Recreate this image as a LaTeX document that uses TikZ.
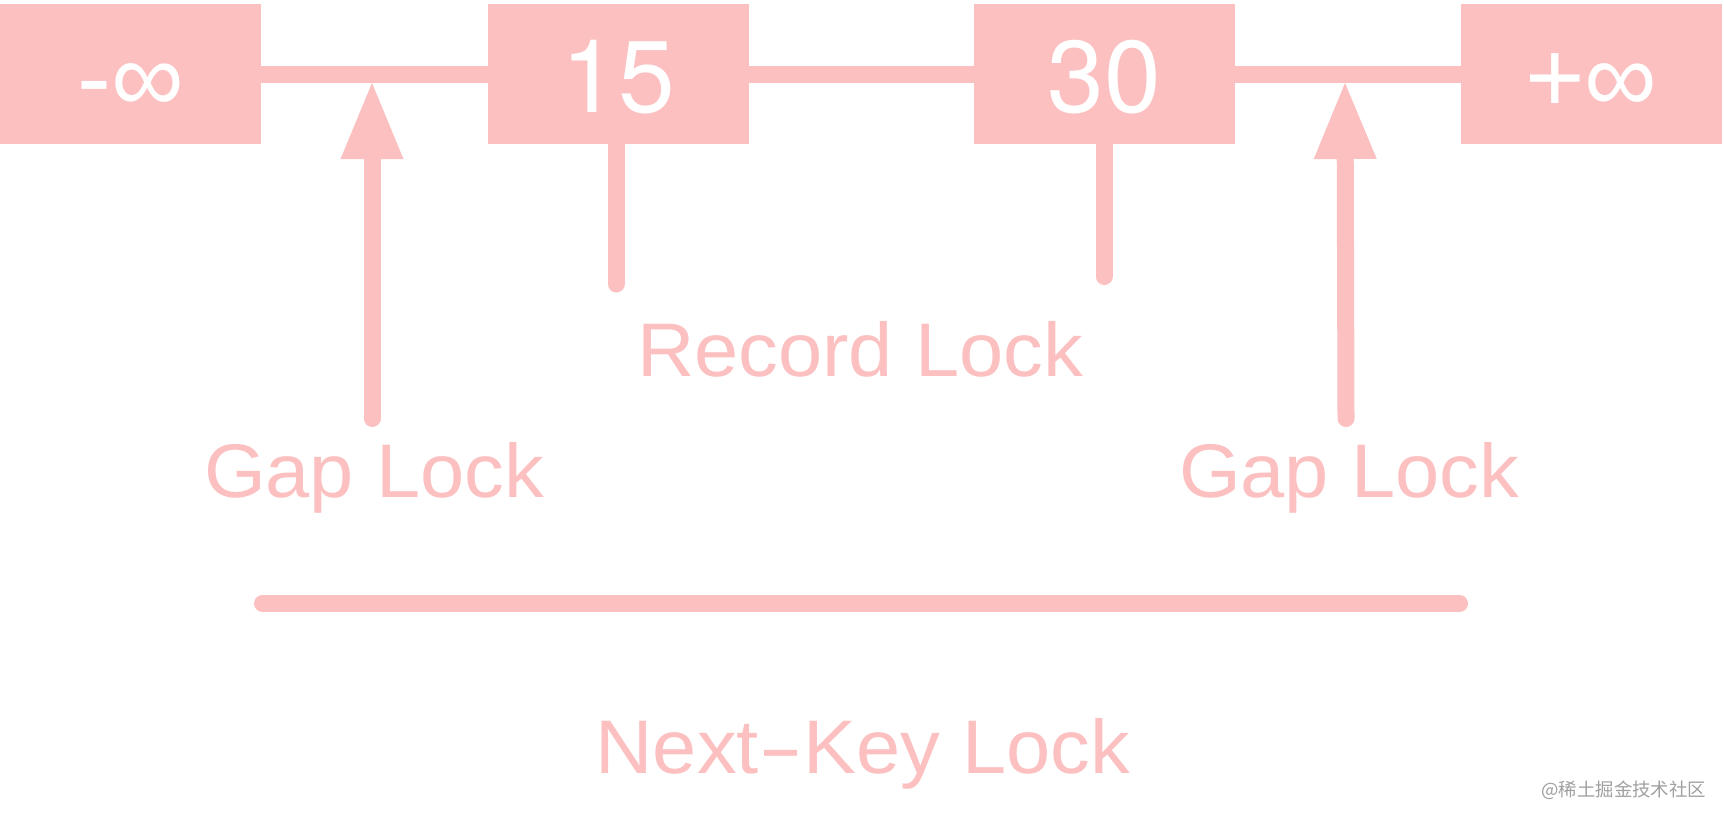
\documentclass[tikz,border=0pt]{standalone}
\usepackage{fontspec}
\usepackage{graphicx}
\setmainfont{Liberation Sans}
\newfontfamily\lblfont[FakeStretch=1.045]{Liberation Sans}
\newfontfamily\digfont{TeX Gyre Heros}
\newfontfamily\cjk{Noto Sans CJK SC}
\usetikzlibrary{arrows.meta}
\definecolor{pk}{RGB}{252,192,193}
\definecolor{wm}{RGB}{160,160,160}
\tikzset{
  keybox/.style={fill=pk, draw=none, minimum width=130.5pt, minimum height=70pt,
    inner sep=0pt, text=white, text height=38pt, text depth=0pt,
    font=\digfont\fontsize{51}{51}\selectfont},
  infbox/.style={keybox, font=\fontsize{51}{51}\selectfont},
  link/.style={draw=pk, line width=8.5pt},
  lockline/.style={draw=pk, line width=8.5pt, line cap=round},
  lockarrow/.style={draw=pk, line width=8.5pt, line cap=round,
    -{Triangle[length=38pt 0 0, width=31.5pt 0 0, line width=0pt 0 0, fill=pk]}},
  lbl/.style={text=pk, inner sep=0pt, anchor=base, font=\lblfont\fontsize{38}{38}\selectfont},
}
\begin{document}
\begin{tikzpicture}[x=0.5pt, y=-0.5pt]
\fill[white] (0,0) rectangle (1724,820);
\useasboundingbox (0,0) rectangle (1724,820);
% key boxes
\node[infbox] (ninf) at (130.5,74) {-∞};
\node[keybox] (n15) at (618.5,74) {15};
\node[keybox] (n30) at (1104.5,74) {30};
\node[infbox] (pinf) at (1591.5,74) {+∞};
% links
\draw[link] (ninf.east) -- (n15.west);
\draw[link] (n15.east) -- (n30.west);
\draw[link] (n30.east) -- (pinf.west);
% labels
\node[lbl] (rec) at (860,376) {Record Lock};
\node[lbl] (gap1) at (374,497) {Gap Lock};
\node[lbl] (gap2) at (1349,497) {Gap Lock};
\node[lbl] (nk) at (863,773) {Next\scalebox{1.7}[1]{-}Key Lock};
% gap lock arrows
\coordinate (g1tip) at (372,83);
\coordinate (g1end) at (372,418.5);
\coordinate (g2tip) at (1345,83);
\coordinate (g2end) at (1346,418.5);
\draw[lockarrow] (g1end) -- (g1tip);
\draw[lockarrow] (g2end) -- (g2tip);
% record lock lines
\coordinate (r1end) at (616,284);
\coordinate (r2end) at (1104,276.5);
\draw[lockline] (n15.south -| r1end) -- (r1end);
\draw[lockline] (n30.south -| r2end) -- (r2end);
% next-key range
\coordinate (nkl) at (262.5,603.5);
\coordinate (nkr) at (1459.5,603.5);
\draw[lockline] (nkl) -- (nkr);
% watermark
\node[text=wm, inner sep=0pt, anchor=base west, font=\cjk\fontsize{9.2}{9.2}\selectfont] (wmk) at (1541,796) {@稀土掘金技术社区};
\end{tikzpicture}
\end{document}
